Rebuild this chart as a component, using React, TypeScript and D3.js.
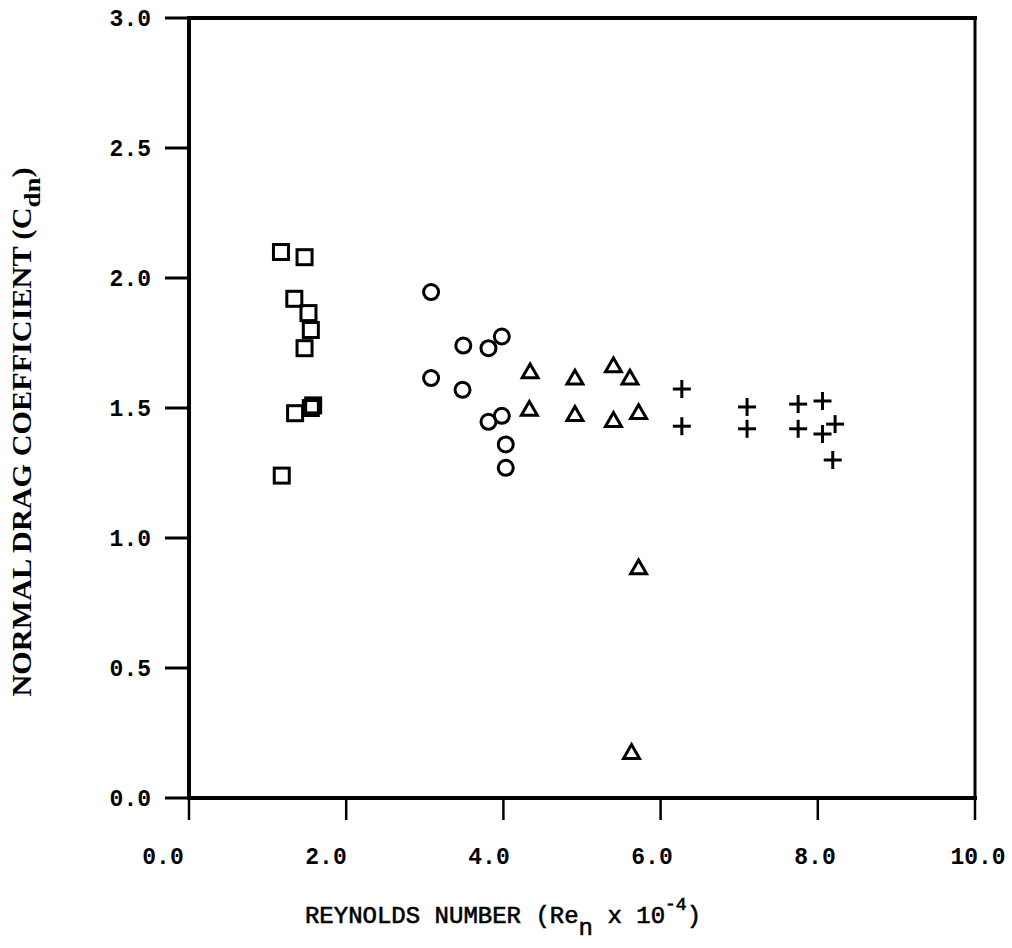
import React from "react";
import * as d3 from "d3";

const squareX = [1.17, 1.47, 1.34, 1.52, 1.55, 1.47, 1.35, 1.55, 1.58, 1.18];
const squareY = [2.10, 2.08, 1.92, 1.865, 1.80, 1.73, 1.48, 1.50, 1.51, 1.24];
const circleX = [3.08, 3.49, 3.81, 3.98, 3.08, 3.48, 3.81, 3.98, 4.03, 4.03];
const circleY = [1.946, 1.74, 1.73, 1.775, 1.615, 1.57, 1.447, 1.47, 1.36, 1.27];
const triangleX = [4.34, 4.33, 4.91, 5.40, 5.61, 4.91, 5.40, 5.72, 5.72, 5.63];
const triangleY = [1.634, 1.49, 1.61, 1.657, 1.61, 1.47, 1.447, 1.477, 0.88, 0.17];
const crossX = [6.27, 6.27, 7.10, 7.10, 7.75, 7.75, 8.06, 8.22, 8.06, 8.19];
const crossY = [1.573, 1.43, 1.504, 1.42, 1.515, 1.42, 1.527, 1.438, 1.40, 1.30];
const xTicks = [0, 2, 4, 6, 8, 10];
const yTicks = [0, 0.5, 1.0, 1.5, 2.0, 2.5, 3.0];

const W = 1012, H = 948;
const L = 189, R = 975, T = 18, B = 798;

export default function App() {
  const x = d3.scaleLinear().domain([0, 10]).range([L, R]);
  const y = d3.scaleLinear().domain([0, 3]).range([B, T]);
  // tick labels in the original are typed slightly offset from their ticks
  const xLab = d3.scaleLinear().domain([0, 10]).range([163, 978]);
  const fontTick = "'Liberation Mono', 'DejaVu Sans Mono', monospace";
  const sq = 15, sw = 3;
  const triPath = d3.symbol().type(d3.symbolTriangle).size(110)();
  return (
    <svg width={W} height={H} style={{ position: "absolute", left: 0, top: 0, background: "#fff" }}>
      <rect x={0} y={0} width={W} height={H} fill="#fff" />
      <g stroke="#000" fill="none" strokeLinecap="square">
        <line x1={L} y1={T} x2={R} y2={T} strokeWidth={4} />
        <line x1={L} y1={B} x2={R} y2={B} strokeWidth={4} />
        <line x1={L} y1={T} x2={L} y2={B} strokeWidth={4} />
        <line x1={R} y1={T} x2={R} y2={B} strokeWidth={3} />
      </g>
      {yTicks.map((t) => (
        <g key={"y" + t}>
          <line x1={L - 24} x2={L} y1={y(t)} y2={y(t)} stroke="#000" strokeWidth={3} />
          <text x={L - 38} y={y(t)} dy="0.35em" textAnchor="end" fontFamily={fontTick} fontWeight="bold" fontSize={23}>
            {d3.format(".1f")(t)}
          </text>
        </g>
      ))}
      {xTicks.map((t) => (
        <g key={"x" + t}>
          <line x1={x(t)} x2={x(t)} y1={B} y2={B + 22} stroke="#000" strokeWidth={2.5} />
          <text x={xLab(t)} y={B + 66} textAnchor="middle" fontFamily={fontTick} fontWeight="bold" fontSize={23}>
            {d3.format(".1f")(t)}
          </text>
        </g>
      ))}
      <g stroke="#000" strokeWidth={sw} fill="none">
        {squareX.map((v, i) => (
          <rect key={"s" + i} x={x(v) - sq / 2} y={y(squareY[i]) - sq / 2} width={sq} height={sq} />
        ))}
        {circleX.map((v, i) => (
          <circle key={"c" + i} cx={x(v)} cy={y(circleY[i])} r={7.5} />
        ))}
        {triangleX.map((v, i) => (
          <path key={"t" + i} d={triPath || ""} transform={`translate(${x(v)},${y(triangleY[i])})`} strokeLinejoin="miter" />
        ))}
        {crossX.map((v, i) => (
          <g key={"p" + i} transform={`translate(${x(v)},${y(crossY[i])})`}>
            <line x1={-9} x2={9} y1={0} y2={0} />
            <line x1={0} x2={0} y1={-9} y2={9} />
          </g>
        ))}
      </g>
      <text x={503} y={923} textAnchor="middle" fontFamily={fontTick} fontSize={24} stroke="#000" strokeWidth={0.6}>
        REYNOLDS NUMBER (Re
        <tspan dy={12}>n</tspan>
        <tspan dy={-12}> x 10</tspan>
        <tspan dy={-13} fontSize={18}>-4</tspan>
        <tspan dy={13}>)</tspan>
      </text>
      <text transform={`translate(31,432) rotate(-90) scale(1.12,1)`} textAnchor="middle" fontFamily="'Liberation Serif', serif" fontSize={27} fontWeight="bold">
        NORMAL DRAG COEFFICIENT (C
        <tspan dy={9} fontSize={24}>dn</tspan>
        <tspan dy={-9}>)</tspan>
      </text>
    </svg>
  );
}
